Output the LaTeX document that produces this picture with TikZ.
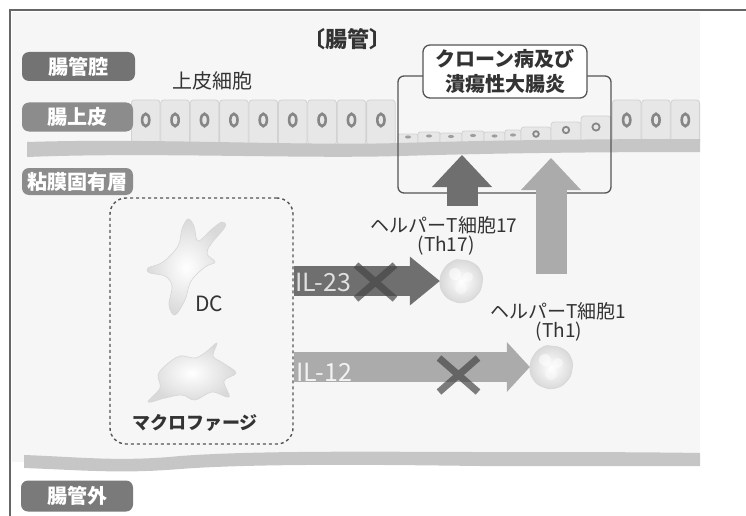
\documentclass[tikz,border=0pt]{standalone}
\usepackage{fontspec}
\setmainfont{Noto Sans CJK JP}
\newfontfamily\jp{Noto Sans CJK JP}
\usetikzlibrary{arrows.meta,calc}

\definecolor{framec}{HTML}{666666}
\definecolor{panel}{HTML}{F6F6F6}
\definecolor{bandc}{HTML}{C6C6C6}
\definecolor{cellf}{HTML}{E7E7E7}
\definecolor{celld}{HTML}{D2D2D2}
\definecolor{nucc}{HTML}{868686}
\definecolor{darkarr}{HTML}{6F6F6F}
\definecolor{lightarr}{HTML}{ABABAB}
\definecolor{inkc}{HTML}{333333}
\definecolor{boxc}{HTML}{555555}

\tikzset{
  pill/.style={fill=#1, rounded corners=7pt, text=white, inner sep=0pt,
    font=\jp\bfseries\fontsize{20}{20}\selectfont},
  txt/.style={text=inkc, inner sep=0pt, font=\jp\fontsize{#1}{#1}\selectfont},
  btxt/.style={text=inkc, inner sep=0pt, font=\jp\bfseries\fontsize{#1}{#1}\selectfont},
  cellbox/.style={fill=cellf, draw=celld, line width=0.8pt, rounded corners=3pt},
  nucleus/.style={draw=nucc, fill=cellf, line width=2.6pt},
  band/.style={fill=bandc},
  blockarrow/.style={line width=30pt, draw=#1,
    -{Triangle[length=30pt, width=49pt, line width=0pt, fill=#1]}},
  uparrow/.style={line width=31pt, draw=#1,
    -{Triangle[length=32pt, width=60pt, line width=0pt, fill=#1]}},
  blockmark/.style={draw=black!72, line width=7pt, opacity=0.7},
  immune/.style={shading=radial, inner color=white, outer color=black!15,
    draw=black!16, line width=0.6pt},
}

\begin{document}
\begin{tikzpicture}[x=1pt, y=-1pt]
\useasboundingbox (0,0) rectangle (746,516);

% panel and frame
\fill[panel] (12,12) rectangle (700,462);
\draw[framec, line width=1.3pt] (10,516) -- (10,10) -- (746,10);

% epithelium: healthy columnar cells
\foreach \cx in {145.7,175.1,204.5,233.9,263.3,292.7,322.1,351.5,380.9,626.7,656.0,685.3}{
  \draw[cellbox] (\cx-14.3,145) rectangle (\cx+14.3,100);
  \draw[nucleus] (\cx,120) ellipse (3.6 and 6.2);
}
% damaged, flattened epithelium
\foreach \xa/\xb/\yt in {398/418/134, 418/440/132, 440/462/133, 462/484/131, 484/505/132, 505/521/130}{
  \draw[cellbox, rounded corners=2pt] (\xa,145) rectangle (\xb,\yt);
  \fill[nucc!80] ({(\xa+\xb)/2},{(\yt+140)/2}) ellipse (3 and 1.6);
}
\foreach \xa/\xb/\yt/\ny/\nr in {521/551/127/134/2.8, 551/581/122/130/3.2, 581/611/116/127/3.6}{
  \draw[cellbox] (\xa,145) rectangle (\xb,\yt);
  \draw[nucleus, line width=1.8pt] ({(\xa+\xb)/2},\ny) circle (\nr);
}

% basement membrane
\fill[band] (27,142) .. controls (150,138) and (300,146) .. (400,143)
  .. controls (500,140) and (600,139) .. (700,139) -- (700,152)
  .. controls (600,152) and (500,153) .. (400,156)
  .. controls (300,159) and (150,152) .. (27,157) -- cycle;
% lower boundary of the lamina propria
\fill[band] (24,455) .. controls (80,457) and (120,462) .. (180,456)
  .. controls (260,450) and (400,452) .. (480,452)
  .. controls (560,452) and (640,452) .. (700,453) -- (700,466)
  .. controls (640,466) and (560,466) .. (480,466)
  .. controls (400,465) and (260,463) .. (180,469)
  .. controls (120,474) and (80,470) .. (24,468) -- cycle;

% layer labels
\node[pill=black!55, minimum width=113pt, minimum height=29pt] (lumen) at (78.5,66.5) {腸管腔};
\node[pill=black!45, minimum width=111pt, minimum height=29pt] (epi) at (77.5,117) {腸上皮};
\node[pill=black!45, minimum width=111pt, minimum height=27pt] (lp) at (77.5,181.5) {粘膜固有層};
\node[pill=black!52, minimum width=112pt, minimum height=31pt] (outside) at (77,496) {腸管外};

% headings
\node[btxt=22] (title) at (347,39) {〔腸管〕};
\node[txt=20] (epicell) at (212,81) {上皮細胞};

% disease region
\draw[boxc, line width=1.3pt, rounded corners=6pt] (398,76) rectangle (611,193);
\node[btxt=20, fill=white, draw=boxc, line width=1.3pt, rounded corners=7pt,
  minimum width=164pt, minimum height=53pt, align=center] (disease) at (505,71.5)
  {クローン病及び\\[5pt]潰瘍性大腸炎};

% antigen-presenting cells
\node[draw=boxc, dashed, line width=1.4pt, rounded corners=16pt,
  minimum width=183pt, minimum height=246pt] (apc) at (201.5,321) {};
\draw[immune] plot[smooth cycle, tension=0.6] coordinates {
  (188,219) (194,226) (198,241) (212,229) (222,222) (225,227) (211,244)
  (207,254) (215,262) (205,267) (191,281) (185,300) (175,315) (169,305)
  (172,286) (165,276) (150,273) (148,268) (163,262) (178,246) (182,229)};
\node[txt=21] (dc) at (209,304) {DC};
\draw[immune] plot[smooth cycle, tension=0.6] coordinates {
  (217,343) (213,356) (223,363) (236,373) (224,381) (229,397) (212,392)
  (195,400) (182,395) (165,398) (148,402) (160,388) (158,375) (166,365)
  (180,356) (195,358) (206,352)};
\node[btxt=18] (mac) at (195,423) {マクロファージ};

% helper T cells
\node[circle, minimum size=42pt, inner sep=0pt] (th17) at (461,281) {};
\node[circle, minimum size=42pt, inner sep=0pt] (th1) at (551,367) {};
\foreach \c in {th17, th1}{
  \draw[immune] plot[smooth cycle, tension=0.8] coordinates {
    ($(\c)+(0,-21)$) ($(\c)+(12,-18)$) ($(\c)+(20,-9)$) ($(\c)+(21,3)$)
    ($(\c)+(16,14)$) ($(\c)+(5,21)$) ($(\c)+(-8,20)$) ($(\c)+(-18,12)$)
    ($(\c)+(-21,0)$) ($(\c)+(-17,-12)$) ($(\c)+(-8,-20)$)};
  \fill[white, opacity=0.55] ($(\c)+(-6,-7)$) circle (6);
  \fill[white, opacity=0.45] ($(\c)+(7,-4)$) circle (5);
  \fill[white, opacity=0.4] ($(\c)+(0,7)$) circle (6);
}
\node[txt=19] (lab17) at (444,225) {ヘルパーT細胞17};
\node[txt=19] (lab17b) at (446,246) {(Th17)};
\node[txt=19] (lab1) at (558,311) {ヘルパーT細胞1};
\node[txt=19] (lab1b) at (559,332) {(Th1)};

% cytokine signals
\draw[blockarrow=darkarr] (apc.east |- th17) -- (th17.west);
\draw[line width=30pt, draw=lightarr,
  -{Triangle[length=23pt, width=50pt, line width=0pt, fill=lightarr]}]
  (apc.east |- th1) -- (th1.west);
\node[txt=25, text=white!88!black, anchor=west] (il23) at (295,282) {IL-23};
\node[txt=25, text=white!95!black, anchor=west] (il12) at (296,372) {IL-12};
% blocked signals
\draw[blockmark] (356,265) -- (395,299) (356,299) -- (395,265);
\draw[blockmark] (439,358) -- (478,392) (439,392) -- (478,358);

% effector cells drive the disease
\coordinate (up17a) at (462,206);
\coordinate (up17b) at (462,155);
\coordinate (up1a) at (551,274);
\coordinate (up1b) at (551,158);
\draw[uparrow=darkarr] (up17a) -- (up17b);
\draw[uparrow=lightarr] (up1a) -- (up1b);
\end{tikzpicture}
\end{document}
